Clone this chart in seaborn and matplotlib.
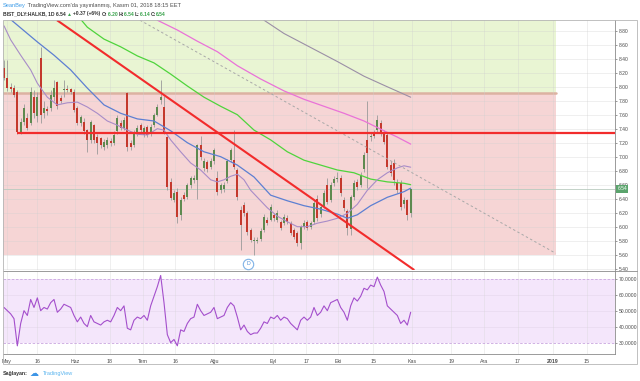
import numpy as np
import pandas as pd
import matplotlib.pyplot as plt
import seaborn as sns
from matplotlib.patches import Rectangle
import matplotlib.transforms as mtransforms

# ==========================================================
# DATA  (BIST_DLY:HALKB daily, May - Nov 01 2018)
# ==========================================================

opens = [8.27, 8.13, 7.99, 7.98, 7.92, 7.35, 7.49, 7.55, 7.48, 7.85,
         7.58, 8.41, 7.62, 7.68, 7.69, 7.85, 8.07, 7.84, 7.95, 7.96,
         7.96, 7.93, 7.70, 7.48, 7.50, 7.38, 7.24, 7.45, 7.28, 7.26,
         7.14, 7.16, 7.22, 7.19, 7.36, 7.48, 7.41, 7.91, 7.20, 7.17,
         7.34, 7.45, 7.31, 7.42, 7.34, 7.45, 7.60, 7.81, 7.71, 7.28,
         6.64, 6.38, 6.50, 6.17, 6.45, 6.42, 6.59, 6.67, 6.66, 7.16,
         6.84, 6.92, 6.85, 6.94, 6.70, 6.52, 6.54, 6.65, 6.95, 6.95,
         6.81, 6.24, 6.31, 6.19, 5.95, 5.79, 5.79, 5.82, 5.95, 6.10,
         6.10, 6.17, 6.10, 6.07, 6.05, 6.12, 6.05, 5.95, 5.91, 5.77,
         6.00, 6.07, 6.00, 6.07, 6.40, 6.18, 6.30, 6.60, 6.38, 6.62,
         6.68, 6.70, 6.38, 6.22, 5.96, 6.42, 6.64, 6.60, 6.82, 7.24,
         7.28, 7.33, 7.38, 7.48, 7.34, 7.31, 6.88, 6.91, 6.62, 6.62,
         6.32, 6.38, 6.20]
highs = [8.38, 8.38, 8.05, 8.02, 7.95, 7.55, 7.75, 7.62, 8.00, 7.95,
         7.92, 8.57, 7.80, 7.72, 7.95, 8.10, 8.08, 7.88, 8.10, 8.02,
         7.98, 7.96, 7.72, 7.60, 7.55, 7.40, 7.52, 7.46, 7.32, 7.28,
         7.25, 7.28, 7.26, 7.36, 7.60, 7.52, 7.56, 7.93, 7.24, 7.38,
         7.45, 7.48, 7.44, 7.45, 7.46, 7.62, 7.75, 8.10, 7.86, 7.30,
         6.70, 6.52, 6.55, 6.42, 6.50, 6.62, 6.72, 6.74, 7.18, 7.30,
         6.98, 6.95, 6.98, 7.12, 6.80, 6.62, 6.64, 6.97, 7.12, 7.38,
         6.84, 6.30, 6.35, 6.22, 5.98, 5.85, 5.85, 5.98, 6.18, 6.14,
         6.32, 6.20, 6.24, 6.10, 6.18, 6.16, 6.08, 5.98, 5.94, 6.03,
         6.10, 6.10, 6.08, 6.38, 6.45, 6.32, 6.52, 6.70, 6.64, 6.72,
         6.78, 6.74, 6.42, 6.25, 6.45, 6.66, 6.68, 6.78, 7.06, 7.80,
         7.34, 7.38, 7.60, 7.52, 7.38, 7.34, 6.94, 6.96, 6.68, 6.66,
         6.42, 6.40, 6.54]
lows = [8.10, 7.94, 7.92, 7.85, 7.32, 7.32, 7.45, 7.38, 7.45, 7.55,
        7.50, 7.48, 7.55, 7.60, 7.65, 7.80, 7.68, 7.76, 7.85, 7.92,
        7.90, 7.64, 7.45, 7.44, 7.33, 7.06, 7.20, 7.20, 7.04, 7.12,
        7.10, 7.12, 7.15, 7.16, 7.33, 7.38, 7.38, 7.08, 7.10, 7.14,
        7.30, 7.35, 7.28, 7.28, 7.30, 7.42, 7.58, 7.75, 7.32, 6.52,
        6.38, 6.35, 6.05, 6.10, 6.36, 6.40, 6.55, 6.62, 6.40, 6.95,
        6.80, 6.78, 6.82, 6.90, 6.45, 6.48, 6.50, 6.62, 6.92, 6.82,
        6.38, 5.66, 6.15, 5.88, 5.78, 5.60, 5.76, 5.80, 5.92, 6.02,
        6.08, 6.08, 6.06, 5.95, 6.02, 6.04, 5.88, 5.82, 5.72, 5.68,
        5.97, 5.95, 5.96, 6.04, 6.08, 6.14, 6.27, 6.32, 6.35, 6.58,
        6.64, 6.44, 6.22, 5.88, 5.88, 6.38, 6.52, 6.56, 6.78, 6.55,
        7.22, 7.26, 7.34, 7.30, 7.18, 6.82, 6.72, 6.60, 6.48, 6.24,
        6.26, 6.10, 6.14]
closes = [8.13, 7.98, 7.96, 7.88, 7.35, 7.49, 7.69, 7.41, 7.92, 7.62,
          7.85, 7.60, 7.70, 7.65, 7.88, 7.98, 7.72, 7.80, 7.97, 7.95,
          7.92, 7.67, 7.48, 7.57, 7.36, 7.24, 7.50, 7.24, 7.20, 7.17,
          7.21, 7.24, 7.19, 7.31, 7.55, 7.41, 7.52, 7.14, 7.14, 7.34,
          7.41, 7.38, 7.41, 7.31, 7.42, 7.59, 7.71, 7.85, 7.35, 6.57,
          6.41, 6.48, 6.14, 6.38, 6.40, 6.59, 6.69, 6.70, 7.16, 6.99,
          6.94, 6.83, 6.94, 7.09, 6.49, 6.59, 6.60, 6.94, 7.09, 6.85,
          6.42, 6.03, 6.19, 5.92, 5.81, 5.81, 5.81, 5.94, 6.14, 6.05,
          6.28, 6.12, 6.20, 5.98, 6.14, 6.07, 5.91, 5.85, 5.77, 6.00,
          6.05, 5.98, 6.05, 6.34, 6.12, 6.28, 6.48, 6.35, 6.60, 6.68,
          6.70, 6.48, 6.26, 5.98, 6.42, 6.62, 6.57, 6.74, 7.02, 7.05,
          7.30, 7.30, 7.52, 7.34, 7.21, 6.85, 6.77, 6.66, 6.52, 6.28,
          6.38, 6.17, 6.54]

rsi = [52, 50, 48, 45, 28, 42, 50, 47, 57, 52,
       58, 50, 52, 51, 55, 57, 49, 51, 54, 53,
       52, 47, 43, 46, 42, 40, 47, 43, 42, 41,
       43, 44, 43, 47, 52, 50, 53, 39, 38, 44,
       46, 45, 47, 44, 53, 59, 65, 72, 55, 35,
       30, 32, 28, 38, 37, 42, 45, 46, 54, 50,
       47, 48, 49, 52, 45, 46, 47, 52, 55, 53,
       46, 38, 41, 37, 35, 36, 36, 39, 43, 42,
       46, 45, 47, 44, 46, 45, 42, 40, 38, 44,
       46, 44, 46, 52, 47, 49, 53, 50, 55, 56,
       57, 52, 49, 44, 53, 58, 56, 59, 64, 63,
       66, 65, 71, 66, 62, 53, 51, 49, 47, 42,
       44, 41, 49]

# moving averages (bar index, value)
ma20_idx = [0, 2, 5, 8, 10, 13, 16, 19, 22, 25, 28, 31, 34, 37, 40, 43, 46, 48,
            50, 53, 56, 59, 62, 64, 66, 68, 70, 72, 74, 76, 79, 82, 85, 88, 91,
            94, 97, 100, 103, 106, 109, 112, 115, 118, 120, 122]
ma20 = [8.87, 8.67, 8.45, 8.24, 8.05, 7.85, 7.74, 7.77, 7.78, 7.71, 7.62, 7.51,
        7.45, 7.38, 7.32, 7.31, 7.40, 7.38, 7.24, 7.07, 6.91, 6.81, 6.67, 6.64,
        6.67, 6.72, 6.75, 6.67, 6.52, 6.42, 6.27, 6.15, 6.07, 6.00, 6.00, 6.05,
        6.08, 6.12, 6.19, 6.32, 6.52, 6.67, 6.77, 6.84, 6.87, 6.85]

ma50_idx = [0, 5, 10, 15, 20, 25, 30, 35, 40, 45, 50, 55, 60, 65, 70, 75, 80,
            85, 90, 95, 100, 103, 106, 110, 115, 120, 122]
ma50 = [9.04, 8.84, 8.64, 8.45, 8.24, 7.98, 7.74, 7.62, 7.54, 7.51, 7.37, 7.20,
        7.07, 7.00, 6.88, 6.71, 6.45, 6.37, 6.30, 6.25, 6.18, 6.12, 6.17, 6.30,
        6.42, 6.50, 6.55]

ma100_idx = [22, 25, 30, 35, 40, 45, 50, 55, 60, 65, 70, 75, 80, 85, 90, 95,
             100, 105, 110, 115, 120, 122]
ma100 = [9.02, 8.85, 8.68, 8.57, 8.44, 8.34, 8.18, 8.01, 7.85, 7.72, 7.60, 7.38,
         7.24, 7.07, 6.95, 6.88, 6.81, 6.77, 6.68, 6.64, 6.62, 6.60]

ma200_idx = [46, 52, 58, 64, 70, 77, 84, 90, 96, 102, 108, 114, 118, 122]
ma200 = [8.95, 8.81, 8.65, 8.50, 8.30, 8.11, 7.94, 7.82, 7.72, 7.62, 7.51, 7.37,
         7.28, 7.18]

ma300_idx = [78, 84, 92, 100, 108, 114, 122]
ma300 = [8.95, 8.76, 8.56, 8.36, 8.15, 8.02, 7.85]

# drawings on the chart (bar index, price)
trend_red = [(15.9, 8.95), (123.1, 5.38)]
trend_dash = [(40.8, 8.95), (165.5, 5.62)]
hline_red = [(3.9, 7.34), (183.3, 7.34)]
zone_x = [-0.5, 165.5]
zone_green = [7.91, 8.96]
zone_red = [5.60, 7.91]
last_price = 6.54
div_marker = (73.3, 5.47)

# time axis
tick_pos = [0.9, 9.9, 21.3, 31.8, 41.7, 51.3, 63.1, 80.8, 90.7, 100.3, 110.8,
            122.5, 134.2, 144.1, 154.1, 164.6, 174.8]
tick_lab = ["May", "16", "Haz", "18", "Tem", "16", "Ağu", "Eyl", "17", "Eki",
            "15", "Kas", "19", "Ara", "17", "2019", "15"]

price_ticks = [5.40, 5.60, 5.80, 6.00, 6.20, 6.40, 6.60, 6.80, 7.00, 7.20,
               7.40, 7.60, 7.80, 8.00, 8.20, 8.40, 8.60, 8.80]
rsi_ticks = [30, 40, 50, 60, 70]

# ==========================================================
# STYLE
# ==========================================================

sns.set_style("white")
plt.rcParams["font.family"] = ["Liberation Sans", "DejaVu Sans"]

W, H = 640, 381
UP = "#5e8a50"
DOWN = "#c4392d"
WICK = "#9a9a9a"
TXT = "#4a4a4a"
GREEN_TXT = "#3aa34d"
XMIN, XMAX = -0.3, 183.3

fig = plt.figure(figsize=(W / 100, H / 100), dpi=100)
fig.patch.set_facecolor("white")


def fax(x, y, w, h):
    return [x / W, 1 - (y + h) / H, w / W, h / H]


ax = fig.add_axes(fax(3, 20, 612, 250))
ax2 = fig.add_axes(fax(3, 271, 612, 83))

# ==========================================================
# PRICE PANEL
# ==========================================================

df = pd.DataFrame({"open": opens, "high": highs, "low": lows, "close": closes})
df["idx"] = np.arange(len(df))
df["up"] = df["close"] >= df["open"]

ax.add_patch(Rectangle((zone_x[0], zone_green[0]), zone_x[1] - zone_x[0],
                       zone_green[1] - zone_green[0], color="#e9f5d3", lw=0, zorder=0))
ax.add_patch(Rectangle((zone_x[0], zone_red[0]), zone_x[1] - zone_x[0],
                       zone_red[1] - zone_red[0], color="#f6d5d5", lw=0, zorder=0))
ax.plot(zone_x, [zone_green[0]] * 2, color="#dcb2a2", lw=1.8, zorder=1)

for p in price_ticks:
    ax.axhline(p, color="#cfcfcf", lw=0.4, alpha=0.6, zorder=1)
for t in tick_pos:
    ax.axvline(t, color="#cfcfcf", lw=0.4, alpha=0.6, zorder=1)

ax.axhline(last_price, color="#b9cbbf", lw=0.6, zorder=1)

# candles
ax.vlines(df["idx"], df["low"], df["high"], color=WICK, lw=0.6, zorder=3)
body_lo = df[["open", "close"]].min(axis=1)
body_h = (df["close"] - df["open"]).abs().clip(lower=0.012)
ax.bar(df["idx"], body_h, bottom=body_lo, width=0.66,
       color=np.where(df["up"], UP, DOWN), lw=0, zorder=4)

# moving averages
sns.lineplot(x=ma300_idx, y=ma300, ax=ax, color="#9b8fa6", lw=0.8, zorder=5)
sns.lineplot(x=ma200_idx, y=ma200, ax=ax, color="#ea72d8", lw=0.9, zorder=5)
sns.lineplot(x=ma100_idx, y=ma100, ax=ax, color="#4fd43c", lw=0.9, zorder=5)
sns.lineplot(x=ma50_idx, y=ma50, ax=ax, color="#5d7fd2", lw=0.9, zorder=5)
sns.lineplot(x=ma20_idx, y=ma20, ax=ax, color="#a88cc8", lw=0.8, zorder=5)

# trend lines
ax.plot(*zip(*trend_dash), color="#a8a8a8", lw=0.7, ls=(0, (2.5, 2.5)), zorder=5)
ax.plot(*zip(*trend_red), color="#f22c2c", lw=1.5, zorder=6, solid_capstyle="butt")
ax.plot(*zip(*hline_red), color="#f22c2c", lw=1.6, zorder=6, solid_capstyle="butt")

# dividend marker
ax.plot([div_marker[0]], [div_marker[1]], marker="o", ms=7.5, mfc="white",
        mec="#7fb2e6", mew=0.8, zorder=7, clip_on=False)
ax.text(div_marker[0], div_marker[1], "D", color="#4f8fd6", fontsize=3.8,
        ha="center", va="center", zorder=8)

ax.set_xlim(XMIN, XMAX)
ax.set_ylim(5.381, 8.953)
ax.yaxis.tick_right()
ax.set_yticks(price_ticks)
ax.set_yticklabels([f"{p:.2f}" for p in price_ticks])
ax.tick_params(axis="y", labelsize=3.6, colors=TXT, length=1.5, width=0.4, pad=1.5)
ax.set_xticks([])
for s in ["top", "left", "bottom"]:
    ax.spines[s].set_visible(False)
ax.spines["right"].set_color("#8a8a8a")
ax.spines["right"].set_linewidth(0.6)

trans = mtransforms.blended_transform_factory(ax.transAxes, ax.transData)
ax.text(1.004, last_price, "6.54", transform=trans, fontsize=3.6, color="white",
        va="center", ha="left", zorder=10, clip_on=False,
        bbox=dict(boxstyle="square,pad=0.25", fc="#5aa46c", ec="none"))

# ==========================================================
# RSI PANEL
# ==========================================================

ax2.axhspan(30, 70, color="#f4e6fb", lw=0, zorder=0)
for p in [40, 50, 60]:
    ax2.axhline(p, color="#d9cce0", lw=0.4, alpha=0.6, zorder=1)
for t in tick_pos:
    ax2.axvline(t, color="#d4d4d4", lw=0.4, alpha=0.6, zorder=1)
ax2.axhline(70, color="#c9a5df", lw=0.6, ls=(0, (3, 2)), zorder=2)
ax2.axhline(30, color="#c9a5df", lw=0.6, ls=(0, (3, 2)), zorder=2)

sns.lineplot(x=np.arange(len(rsi)), y=rsi, ax=ax2, color="#a44fcc", lw=0.8, zorder=4)

ax2.set_xlim(XMIN, XMAX)
ax2.set_ylim(22.9, 74.8)
ax2.yaxis.tick_right()
ax2.set_yticks(rsi_ticks)
ax2.set_yticklabels([f"{r:.4f}" for r in rsi_ticks])
ax2.tick_params(axis="y", labelsize=3.6, colors=TXT, length=1.5, width=0.4, pad=1.5)
ax2.set_xticks(tick_pos)
ax2.set_xticklabels(tick_lab)
ax2.tick_params(axis="x", labelsize=3.8, colors=TXT, length=1.5, width=0.4, pad=2)
for lab in ax2.get_xticklabels():
    if lab.get_text() == "2019":
        lab.set_fontweight("bold")
ax2.spines["left"].set_visible(False)
for s in ["top", "right", "bottom"]:
    ax2.spines[s].set_color("#8a8a8a")
    ax2.spines[s].set_linewidth(0.6)
ax2.set_xlabel("")
ax2.set_ylabel("")
ax.set_xlabel("")
ax.set_ylabel("")

# outer frame
fig.add_artist(Rectangle((2.5 / W, 1 - 364 / H), 634.5 / W, 344 / H,
                         transform=fig.transFigure, fill=False, ec="#b5b5b5", lw=0.6))
fig.add_artist(plt.Line2D([615 / W, 637 / W], [1 - 270.5 / H, 1 - 270.5 / H],
                          transform=fig.transFigure, color="#8a8a8a", lw=0.6))

# ==========================================================
# HEADER / FOOTER TEXT
# ==========================================================

rend = fig.canvas.get_renderer()


def text_row(x, y, parts, size, weight="normal"):
    for s, col in parts:
        t = fig.text(x / W, 1 - y / H, s, color=col, fontsize=size,
                     va="center", ha="left", weight=weight)
        x += t.get_window_extent(renderer=rend).width


text_row(3, 5, [("SeanBey", "#3b9be8"),
                (" TradingView.com'da yayınlanmış, Kasım 01, 2018 18:15 EET", TXT)], 4.1)
text_row(3, 14, [("BIST_DLY:HALKB, 1D ", "#333333"), ("6.54 ", "#333333"),
                 ("▲ ", GREEN_TXT), ("+0.37 (+6%) ", "#333333"),
                 ("O:", "#333333"), ("6.20 ", GREEN_TXT), ("H:", "#333333"),
                 ("6.54 ", GREEN_TXT), ("L:", "#333333"), ("6.14 ", GREEN_TXT),
                 ("C:", "#333333"), ("6.54", GREEN_TXT)], 3.6, weight="bold")

text_row(3, 373, [("Sağlayan:", "#333333")], 3.8, weight="bold")
text_row(30, 373, [("☁", "#3d95e6")], 6.5)
text_row(43, 373, [("TradingView", "#5ab4ee")], 4.0)

fig.savefig("out.png", dpi=100)
